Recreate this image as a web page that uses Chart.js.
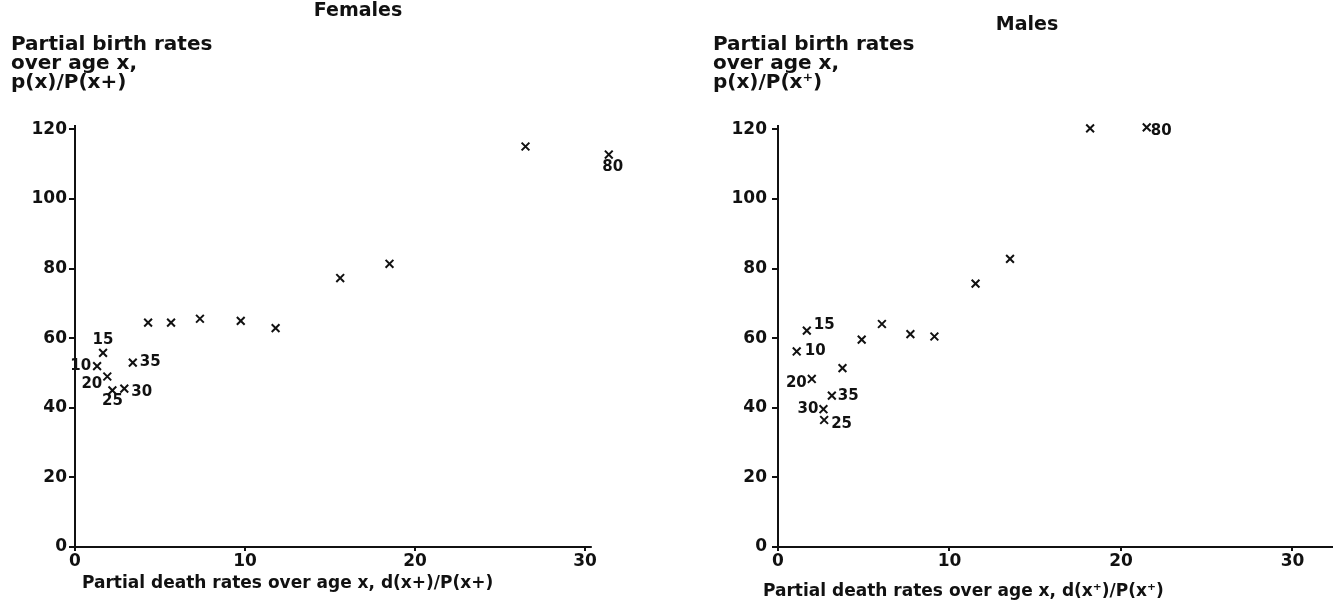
<!DOCTYPE html>
<html>
<head>
<meta charset="utf-8">
<script src="https://cdn.jsdelivr.net/npm/chart.js@4/dist/chart.umd.min.js"></script>
<style>
  html, body { margin: 0; padding: 0; background: #fff; }
  #wrap { position: relative; width: 1333px; height: 607px; overflow: hidden; }
  canvas { position: absolute; top: 0; }
  #femalesChart { left: 0; }
  #malesChart { left: 666px; }
</style>
</head>
<body>
<div id="wrap">
  <canvas id="femalesChart" width="666" height="607"></canvas>
  <canvas id="malesChart" width="676" height="607"></canvas>
</div>
<script>
// ages 10, 15, ... 80 (only some are written next to their point)
const ageLabels = ["10", "15", "20", "25", "30", "35", "", "", "", "", "", "", "", "", "80"];

// Females: x = partial death rate, y = partial birth rate
const femaleDeath = [1.3, 1.65, 1.9, 2.2, 2.9, 3.4, 4.3, 5.65, 7.35, 9.75, 11.8, 15.6, 18.5, 26.5, 31.4];
const femaleBirth = [52, 55.8, 49, 45, 45.5, 53, 64.5, 64.5, 65.6, 65, 62.9, 77.3, 81.4, 115.1, 112.8];

// Males
const maleDeath = [1.09, 1.68, 1.97, 2.69, 2.65, 3.14, 3.76, 4.88, 6.06, 7.72, 9.12, 11.52, 13.53, 18.2, 21.5];
const maleBirth = [56.2, 62.2, 48.3, 36.5, 39.6, 43.5, 51.4, 59.6, 64.1, 61.2, 60.5, 75.7, 82.8, 120.3, 120.6];

const xTicks = [0, 10, 20, 30];
const yTicks = [0, 20, 40, 60, 80, 100, 120];

const FONT = '"DejaVu Sans", "Liberation Sans", sans-serif';

function toPoints(xs, ys) {
    return xs.map((x, i) => ({ x: x, y: ys[i] }));
}

// draws the x axis line, the panel title, axis titles and the age labels
const figureText = {
    id: 'figureText',
    beforeDatasetsDraw(chart, args, opts) {
        // x axis line stops at opts.axisEnd (the last point may sit past it)
        const ctx = chart.ctx;
        const xs = chart.scales.x;
        ctx.save();
        ctx.strokeStyle = '#111';
        ctx.lineWidth = 2;
        ctx.beginPath();
        ctx.moveTo(chart.chartArea.left - 1, chart.chartArea.bottom);
        ctx.lineTo(xs.getPixelForValue(opts.axisEnd), chart.chartArea.bottom);
        ctx.stroke();
        ctx.restore();
    },
    afterDraw(chart, args, opts) {
        const ctx = chart.ctx;
        ctx.save();
        ctx.fillStyle = '#111';
        ctx.textBaseline = 'middle';

        ctx.font = 'bold 19px ' + FONT;
        ctx.textAlign = 'center';
        ctx.fillText(opts.title, opts.titleX, opts.titleY);

        ctx.font = 'bold 20px ' + FONT;
        ctx.textAlign = 'left';
        opts.yTitle.forEach(function(line, i) {
            ctx.fillText(line, opts.yTitleX, opts.yTitleY + i * 19);
        });

        ctx.font = 'bold 17px ' + FONT;
        ctx.fillText(opts.xTitle, opts.xTitleX, opts.xTitleY);

        // age labels next to the points
        const meta = chart.getDatasetMeta(0);
        ctx.font = 'bold 15px ' + FONT;
        ageLabels.forEach(function(txt, i) {
            if (!txt) return;
            const off = opts.offsets[txt];
            const pt = meta.data[i];
            ctx.textAlign = off[2];
            ctx.fillText(txt, pt.x + off[0], pt.y + off[1]);
        });
        ctx.restore();
    }
};

function makeConfig(xs, ys, xMax, padRight, yWidth, yPad, text) {
    return {
        type: 'scatter',
        data: {
            datasets: [{
                data: toPoints(xs, ys),
                pointStyle: 'crossRot',
                pointRadius: 5.5,
                pointBorderWidth: 2,
                borderColor: '#111',
                backgroundColor: '#111',
                clip: false
            }]
        },
        options: {
            responsive: false,
            animation: false,
            events: [],
            layout: { padding: { left: 0, right: padRight, top: 126, bottom: 0 } },
            plugins: {
                legend: { display: false },
                tooltip: { enabled: false },
                figureText: text
            },
            scales: {
                x: {
                    type: 'linear',
                    min: 0,
                    max: xMax,
                    afterFit: function(scale) { scale.height = 60; },
                    afterBuildTicks: function(scale) {
                        scale.ticks = xTicks.map(v => ({ value: v }));
                    },
                    ticks: {
                        color: '#111',
                        padding: 0,
                        font: { family: FONT, size: 17, weight: 'bold' }
                    },
                    grid: { drawOnChartArea: false, color: '#111', lineWidth: 2, tickLength: 4 },
                    border: { display: false }
                },
                y: {
                    type: 'linear',
                    min: 0,
                    max: 121,
                    afterFit: function(scale) { scale.width = yWidth; },
                    afterBuildTicks: function(scale) {
                        scale.ticks = yTicks.map(v => ({ value: v }));
                    },
                    ticks: {
                        color: '#111',
                        padding: yPad,
                        font: { family: FONT, size: 17, weight: 'bold' }
                    },
                    grid: { drawOnChartArea: false, color: '#111', lineWidth: 2, tickLength: 6 },
                    border: { color: '#111', width: 2 }
                }
            }
        },
        plugins: [figureText]
    };
}

new Chart(document.getElementById('femalesChart'), makeConfig(femaleDeath, femaleBirth, 32, 47, 75, 2, {
    axisEnd: 30.4,
    title: 'Females', titleX: 358, titleY: 11,
    yTitle: ['Partial birth rates', 'over age x,', 'p(x)/P(x+)'], yTitleX: 11, yTitleY: 45,
    xTitle: 'Partial death rates over age x, d(x+)/P(x+)', xTitleX: 82, xTitleY: 584,
    offsets: {
        '10': [-6, 0, 'right'], '15': [0, -13, 'center'], '20': [-5, 8, 'right'],
        '25': [0, 11, 'center'], '30': [7, 3, 'left'], '35': [7, 0, 'left'],
        '80': [4, 13, 'center']
    }
}));

new Chart(document.getElementById('malesChart'), makeConfig(maleDeath, maleBirth, 32.45, 0, 112, 5, {
    axisEnd: 32.45,
    title: 'Males', titleX: 361, titleY: 25,
    yTitle: ['Partial birth rates', 'over age x,', 'p(x)/P(x\u207A)'], yTitleX: 47, yTitleY: 45,
    xTitle: 'Partial death rates over age x, d(x\u207A)/P(x\u207A)', xTitleX: 97, xTitleY: 592,
    offsets: {
        '10': [8, 0, 'left'], '15': [7, -5, 'left'], '20': [-5, 4, 'right'],
        '25': [7, 4, 'left'], '30': [-5, 0, 'right'], '35': [6, 0, 'left'],
        '80': [4, 4, 'left']
    }
}));
</script>
</body>
</html>
